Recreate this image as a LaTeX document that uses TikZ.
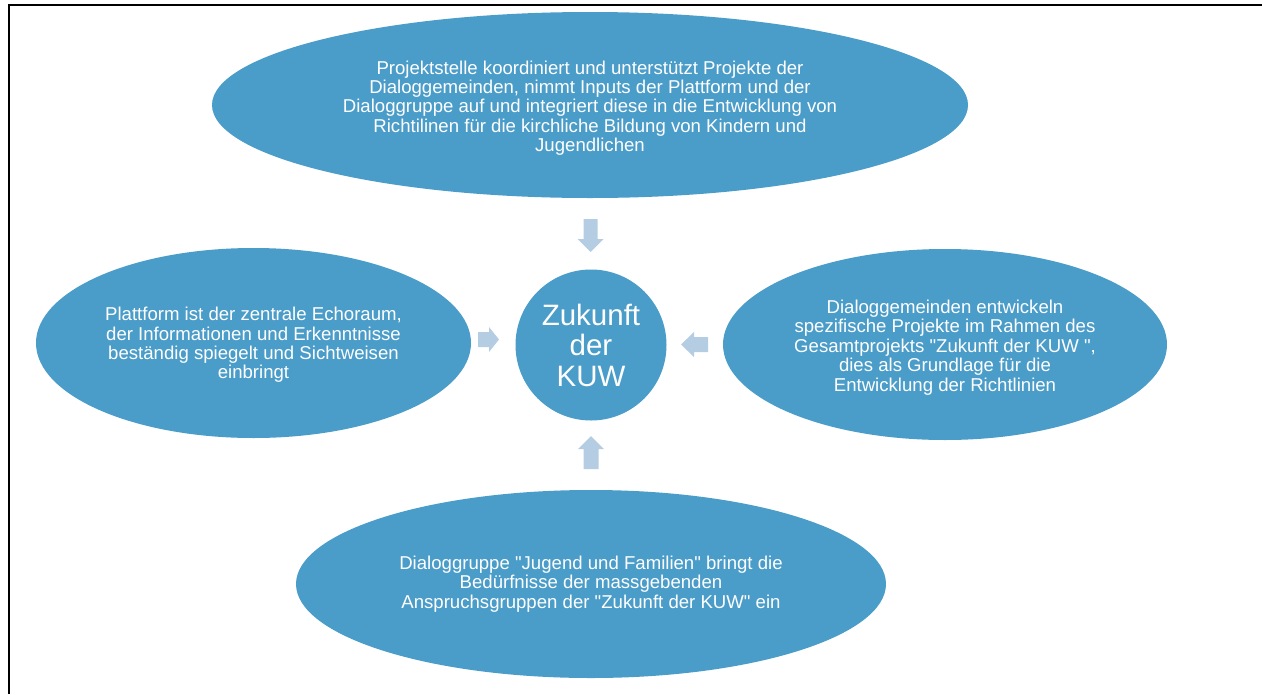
\documentclass[tikz,border=0pt]{standalone}
\usepackage{fontspec}
\setmainfont{Liberation Sans}
\usetikzlibrary{shapes.geometric}
\definecolor{ellblue}{RGB}{74,156,201}
\definecolor{arrblue}{RGB}{180,205,226}
\newcommand\dq{\textquotedbl{}}
\newcommand\downstrut{\rule{0pt}{19.5pt}}
\tikzset{
  ellbox/.style={ellipse, fill=ellblue, draw=none, inner sep=0pt, outer sep=0pt,
    text=white, align=center, font=\fontsize{18.6}{19.4}\selectfont},
  centerbox/.style={circle, fill=ellblue, draw=none, inner sep=0pt, outer sep=0pt,
    minimum size=151pt, text=white, align=center, font=\fontsize{29.5}{30.5}\selectfont},
  blockarrow/.style={fill=arrblue, draw=none},
  framerule/.style={draw=black, line width=2.2pt}
}
\begin{document}
\begin{tikzpicture}[x=1pt, y=-1pt]
\useasboundingbox (0,0) rectangle (1262,694);
% partial frame
\draw[framerule] (1262,5) -- (9,5) -- (9,694);

% centre
\node[centerbox] (kuw) at (591,345) {Zukunft\\der\\KUW};

% outer ellipses
\node[ellbox, minimum width=756pt, minimum height=186pt] (proj) at (590,105)
  {\downstrut Projektstelle koordiniert und unterstützt Projekte der\\
   Dialoggemeinden, nimmt Inputs der Plattform und der\\
   Dialoggruppe auf und integriert diese in die Entwicklung von\\
   Richtilinen für die kirchliche Bildung von Kindern und\\
   Jugendlichen};

\node[ellbox, minimum width=435pt, minimum height=190pt] (platt) at (253.5,343)
  {\rule{0pt}{17.5pt}Plattform ist der zentrale Echoraum,\\
   der Informationen und Erkenntnisse\\
   beständig spiegelt und Sichtweisen\\
   einbringt};

\node[ellbox, minimum width=444pt, minimum height=191pt] (gem) at (945,344.5)
  {\downstrut Dialoggemeinden entwickeln\\
   spezifische Projekte im Rahmen des\\
   Gesamtprojekts \dq Zukunft der KUW \dq,\\
   dies als Grundlage für die\\
   Entwicklung der Richtlinien};

\node[ellbox, minimum width=590pt, minimum height=188pt] (grp) at (591,584)
  {Dialoggruppe \dq Jugend und Familien\dq\ bringt die\\
   Bedürfnisse der massgebenden\\
   Anspruchsgruppen der \dq Zukunft der KUW\dq\ ein};

% block arrows pointing to the centre
% from top (down arrow)
\fill[blockarrow] (583.5,219) -- (597.5,219) -- (597.5,239) -- (603.5,239)
  -- (590.5,252) -- (577.5,239) -- (583.5,239) -- cycle;
% from bottom (up arrow)
\fill[blockarrow] (583.5,469) -- (598.5,469) -- (598.5,449) -- (604,449)
  -- (591,436) -- (578,449) -- (583.5,449) -- cycle;
% from left (right arrow)
\fill[blockarrow] (478,332) -- (489,332) -- (489,327) -- (499,339.5)
  -- (489,352) -- (489,347) -- (478,347) -- cycle;
% from right (left arrow)
\fill[blockarrow] (708,337) -- (694,337) -- (694,332) -- (681,344.5)
  -- (694,357) -- (694,352) -- (708,352) -- cycle;
\end{tikzpicture}
\end{document}
